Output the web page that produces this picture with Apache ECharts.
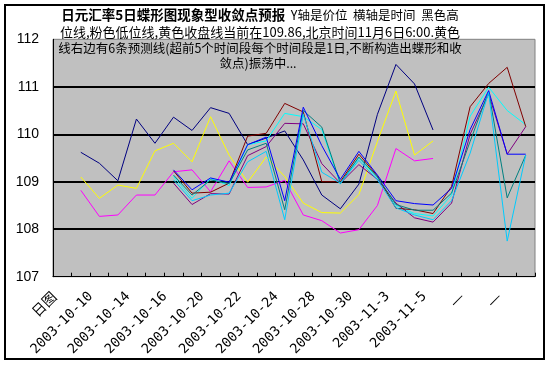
<!DOCTYPE html>
<html><head><meta charset="utf-8">
<script src="https://cdn.jsdelivr.net/npm/echarts@6/dist/echarts.min.js"></script>
<style>html,body{margin:0;padding:0;background:#fff}#c{width:551px;height:366px}</style>
</head><body><div id="c"></div>
<script>
// Categories (labels shown every other category)
const categories = ['日图','2003-10-9','2003-10-10','2003-10-13','2003-10-14','2003-10-15','2003-10-16','2003-10-17','2003-10-20','2003-10-21','2003-10-22','2003-10-23','2003-10-24','2003-10-27','2003-10-28','2003-10-29','2003-10-30','2003-10-31','2003-11-3','2003-11-4','2003-11-5','—','—','—','—','—'];
const yMin = 107, yMax = 112, yStep = 1;

// Observed lines (categories 1..20)
const highLine  = [null,109.62,109.39,109.02,110.32,109.81,110.36,110.08,110.56,110.44,109.78,109.92,110.07,109.46,108.72,108.43,108.95,110.42,111.47,111.06,110.09,null,null,null,null,null];
const lowLine   = [null,108.82,108.27,108.30,108.72,108.72,109.21,109.25,108.79,109.44,108.88,108.89,109.03,108.30,108.18,107.92,107.99,108.50,109.70,109.44,109.49,null,null,null,null,null];
const closeLine = [null,109.10,108.65,108.93,108.86,109.65,109.81,109.42,110.37,109.56,108.99,109.52,109.11,108.55,108.35,108.34,108.73,109.85,110.91,109.56,109.86,null,null,null,null,null];

// Forecast lines (categories 6..25)
const pad6 = [null,null,null,null,null,null];
const fcCyan   = pad6.concat([109.11,108.65,109.07,108.92,109.78,109.86,110.44,110.37,110.10,108.95,109.50,109.08,108.50,108.33,108.28,108.72,110.38,110.99,110.50,110.20]);
const fcPurple = pad6.concat([108.97,108.52,108.75,108.74,109.55,109.74,110.23,110.22,109.38,108.97,109.36,109.05,108.55,108.24,108.15,108.55,110.00,110.85,109.58,110.16]);
const fcMaroon = pad6.concat([109.23,108.76,108.78,108.97,109.96,110.02,110.65,110.47,109.00,109.00,109.58,109.12,108.44,108.41,108.33,108.90,110.58,111.07,111.41,110.16]);
const fcTeal   = pad6.concat([109.14,108.72,109.04,108.96,109.67,109.81,108.41,110.50,110.15,108.97,109.52,109.10,108.52,108.40,108.40,108.76,109.85,110.90,108.66,109.56]);
const fcBlue   = pad6.concat([109.25,108.83,109.08,108.99,109.78,109.94,108.60,110.57,109.76,109.05,109.64,109.14,108.60,108.54,108.51,108.86,110.10,110.92,109.58,109.58]);
const fcSky    = pad6.concat([109.04,108.60,108.72,108.76,109.42,109.64,108.20,110.42,109.20,108.97,109.45,109.04,108.45,108.30,108.20,108.60,109.60,110.88,107.75,109.56]);

const seriesDefs = [
  [highLine,'#000080'],[lowLine,'#FF00FF'],[closeLine,'#FFFF00'],
  [fcCyan,'#00FFFF'],[fcPurple,'#800080'],[fcMaroon,'#800000'],
  [fcTeal,'#008080'],[fcBlue,'#0000FF'],[fcSky,'#00CCFF']
];

const chart = echarts.init(document.getElementById('c'), null, {renderer:'canvas'});
const titleFont = '"Noto Sans CJK SC", sans-serif';
chart.setOption({
  animation: false,
  backgroundColor: '#ffffff',
  grid: {left: 53, right: 16, top: 39.3, bottom: 89.3, show: true, backgroundColor: '#C0C0C0', borderColor: '#808080', borderWidth: 1, containLabel: false},
  xAxis: {
    type: 'category', data: categories, boundaryGap: true,
    axisLine: {show: true, lineStyle: {color: '#000', width: 1}},
    axisTick: {show: true, inside: true, length: 4, interval: 0, lineStyle: {color: '#000'}},
    axisLabel: {
      interval: 1, rotate: 45, fontSize: 13.5, color: '#000', margin: 9,
      padding: [0, 12, 0, 0],
      fontFamily: '"DejaVu Sans Mono", "Noto Sans CJK SC", monospace',
      formatter: v => v === '—' ? '{d|' + v + '}' : (v === '日图' ? '{c|' + v + '}' : v),
      rich: {
        d: {fontFamily: '"Noto Sans CJK SC", sans-serif', fontSize: 16, color: '#000'},
        c: {fontFamily: '"Noto Sans CJK SC", sans-serif', fontSize: 14, color: '#000'}
      }
    },
    splitLine: {show: false}
  },
  yAxis: {
    type: 'value', min: yMin, max: yMax, interval: yStep,
    axisLine: {show: true, lineStyle: {color: '#000', width: 1}},
    axisTick: {show: false},
    axisLabel: {fontSize: 14, color: '#000', margin: 14, fontFamily: '"Liberation Sans", Arial, sans-serif'},
    splitLine: {show: true, showMinLine: false, showMaxLine: false, lineStyle: {color: '#000', width: 2}}
  },
  series: seriesDefs.map(([d, c]) => ({
    type: 'line', data: d, showSymbol: false, symbol: 'none', connectNulls: false,
    lineStyle: {color: c, width: 1}, itemStyle: {color: c}
  })),
  graphic: [
    {type: 'rect', z: 100, silent: true, shape: {x: 5, y: 5, width: 539, height: 354}, style: {fill: 'none', stroke: '#000', lineWidth: 2}},
    {type: 'text', z: 100, x: 260, y: 15, style: {
      text: '{b|日元汇率5日蝶形图现象型收敛点预报}{n|  Y轴是价位  横轴是时间  黑色高}',
      textAlign: 'center', textVerticalAlign: 'middle',
      rich: {b: {fontSize: 13.5, fontWeight: 'bold', fontFamily: titleFont, fill: '#000', align: 'center'},
             n: {fontSize: 12.5, fontFamily: titleFont, fill: '#000', align: 'center'}}
    }},
    {type: 'text', z: 100, x: 260, y: 32, style: {text: '位线,粉色低位线,黄色收盘线当前在109.86,北京时间11月6日6:00.黄色', textAlign: 'center', textVerticalAlign: 'middle', fontSize: 13, fontFamily: titleFont, fill: '#000'}},
    {type: 'text', z: 100, x: 260, y: 48, style: {text: '线右边有6条预测线(超前5个时间段每个时间段是1日,不断构造出蝶形和收', textAlign: 'center', textVerticalAlign: 'middle', fontSize: 12.5, fontFamily: titleFont, fill: '#000'}},
    {type: 'text', z: 100, x: 258, y: 63, style: {text: '敛点)振荡中...', textAlign: 'center', textVerticalAlign: 'middle', fontSize: 12.5, fontFamily: titleFont, fill: '#000'}}
  ]
});
</script></body></html>
